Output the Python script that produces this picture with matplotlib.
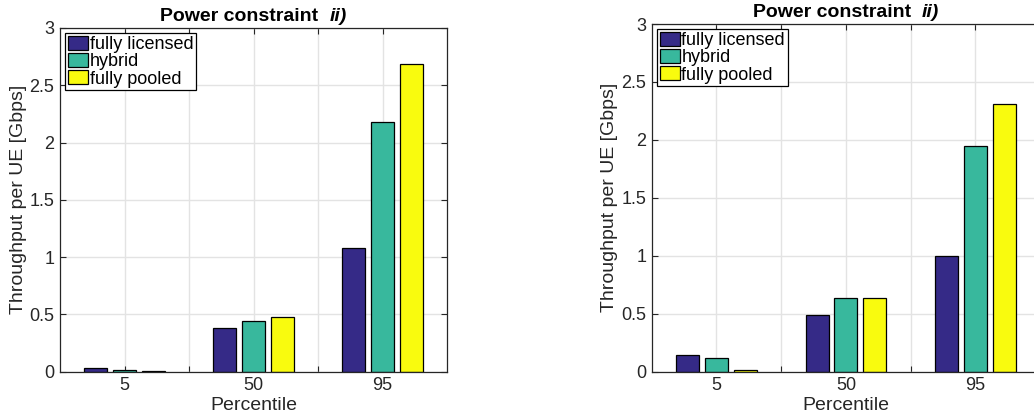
import numpy as np
import matplotlib
matplotlib.use("Agg")
import matplotlib.pyplot as plt
from matplotlib.offsetbox import TextArea, HPacker, AnchoredOffsetbox

plt.rcParams['font.family'] = ['Liberation Sans', 'DejaVu Sans']

# Percentile categories and series
categories = ['5', '50', '95']
series_names = ['fully licensed', 'hybrid', 'fully pooled']

# Left panel: throughput per UE [Gbps]
licensed_left = [0.032, 0.381, 1.078]
hybrid_left = [0.017, 0.445, 2.178]
pooled_left = [0.003, 0.474, 2.684]

# Right panel: throughput per UE [Gbps]
licensed_right = [0.143, 0.484, 1.0]
hybrid_right = [0.119, 0.632, 1.951]
pooled_right = [0.013, 0.632, 2.31]

colors = ['#352a87', '#38b89d', '#f9fb0e']
FS_TICK = 13
FS_LABEL = 14
FS_LEG = 13
FS_TITLE = 14

W, H = 1034, 419
fig = plt.figure(figsize=(W / 100, H / 100), dpi=100)

ax_w = 388.5 / W
ax_left = fig.add_axes([60 / W, 1 - 371.7 / H, 387 / W, (371.7 - 28) / H])
ax_right = fig.add_axes([651.7 / W, 1 - 371.5 / H, ax_w, (371.5 - 24) / H])


def draw_panel(ax, series):
    x = np.arange(1, len(categories) + 1)
    n = len(series)
    group_w = min(0.8, n / (n + 1.5))
    step = group_w / n
    bar_w = step * 0.8
    for i, (vals, name, c) in enumerate(zip(series, series_names, colors)):
        off = (i - (n - 1) / 2) * step
        ax.bar(x + off, vals, width=bar_w, color=c, edgecolor='black',
               linewidth=0.9, label=name, zorder=3)
    ax.set_xlim(0.5, 3.5)
    ax.set_ylim(0, 3)
    ticks = [1, 1.5, 2, 2.5, 3]
    ax.set_xticks(ticks)
    ax.set_xticklabels(['5', '', '50', '', '95'])
    ax.set_yticks([0, 0.5, 1, 1.5, 2, 2.5, 3])
    ax.set_yticklabels(['0', '0.5', '1', '1.5', '2', '2.5', '3'])
    ax.grid(True, color='#e3e3e3', linewidth=1.0, zorder=0)
    ax.set_axisbelow(True)
    for s in ax.spines.values():
        s.set_color('#262626')
        s.set_linewidth(0.9)
        s.set_zorder(4)
    ax.tick_params(direction='in', length=4, width=0.8, colors='#262626',
                   labelsize=FS_TICK, top=True, right=True, pad=4)
    ax.set_xlabel('Percentile', fontsize=FS_LABEL, color='#262626', labelpad=2)
    ax.set_ylabel('Throughput per UE [Gbps]', fontsize=FS_LABEL,
                  color='#262626', labelpad=2)
    leg = ax.legend(loc='upper left', fontsize=FS_LEG, frameon=True,
                    fancybox=False, edgecolor='black', framealpha=1,
                    borderpad=0.15, labelspacing=0.0, handlelength=1.1,
                    handleheight=0.8, handletextpad=0.1, borderaxespad=0.3)
    leg.get_frame().set_linewidth(0.9)

    # Title: bold text followed by bold italic panel label
    t1 = TextArea('Power constraint  ',
                  textprops=dict(fontsize=FS_TITLE, fontweight='bold',
                                 color='black'))
    t2 = TextArea('ii)',
                  textprops=dict(fontsize=FS_TITLE, fontweight='bold',
                                 style='italic', color='black'))
    box = HPacker(children=[t1, t2], align='baseline', pad=0, sep=0)
    anchored = AnchoredOffsetbox(loc='lower center', child=box, pad=0,
                                 frameon=False, bbox_to_anchor=(0.5, 1.0),
                                 bbox_transform=ax.transAxes, borderpad=0.25)
    ax.add_artist(anchored)


draw_panel(ax_left, [licensed_left, hybrid_left, pooled_left])
draw_panel(ax_right, [licensed_right, hybrid_right, pooled_right])

fig.savefig('out.png', dpi=100)
